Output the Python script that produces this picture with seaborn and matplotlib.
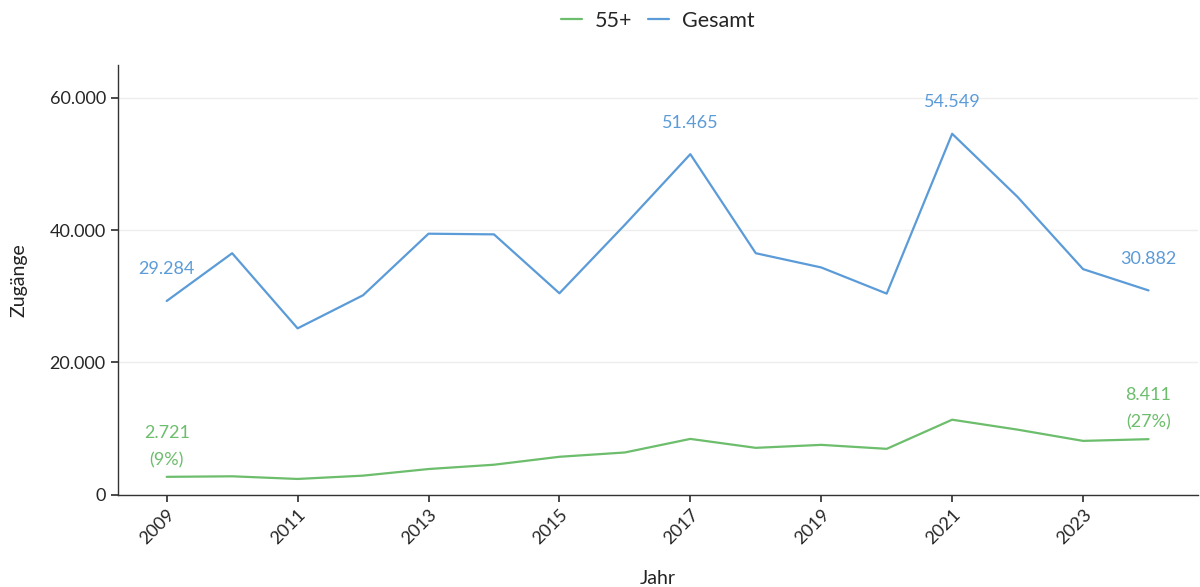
import matplotlib
matplotlib.use("Agg")
import matplotlib.pyplot as plt
import seaborn as sns
import pandas as pd
from matplotlib.ticker import FuncFormatter

years = list(range(2009, 2025))
gesamt = [29284, 36500, 25150, 30150, 39450, 39350, 30450, 40800, 51465,
          36500, 34350, 30400, 54549, 45000, 34100, 30882]
ue55 = [2721, 2800, 2400, 2900, 3900, 4550, 5750, 6400, 8450,
        7100, 7550, 6950, 11350, 9850, 8150, 8411]
series_names = ["55+", "Gesamt"]
colors = {"55+": "#6cbd6c", "Gesamt": "#5b9bd8"}

df = pd.DataFrame({
    "Jahr": years * 2,
    "Zugänge": ue55 + gesamt,
    "Serie": ["55+"] * len(years) + ["Gesamt"] * len(years),
})

sns.set_theme(style="white")
plt.rcParams["font.family"] = ["Lato", "DejaVu Sans"]

fig, ax = plt.subplots(figsize=(12, 5.87), dpi=100)
fig.subplots_adjust(left=0.098, right=0.998, top=0.89, bottom=0.157)

sns.lineplot(data=df, x="Jahr", y="Zugänge", hue="Serie", hue_order=series_names,
             palette=colors, ax=ax, linewidth=1.6)

ax.set_xlim(2008.25, 2024.75)
ax.set_ylim(0, 65000)
ax.set_yticks([0, 20000, 40000, 60000])
ax.yaxis.set_major_formatter(FuncFormatter(lambda v, p: f"{int(v):,}".replace(",", ".")))
ax.set_xticks(list(range(2009, 2025, 2)))
ax.tick_params(axis="x", rotation=45, labelsize=13, length=5, color="#333333", bottom=True)
ax.tick_params(axis="y", labelsize=13, length=5, color="#333333", left=True)
for lbl in ax.get_xticklabels():
    lbl.set_ha("right")
    lbl.set_rotation_mode("anchor")
ax.grid(axis="y", color="#eeeeee", linewidth=1)
ax.set_axisbelow(True)
for s in ["top", "right"]:
    ax.spines[s].set_visible(False)
for s in ["left", "bottom"]:
    ax.spines[s].set_color("#333333")
    ax.spines[s].set_linewidth(1)
ax.set_xlabel("Jahr", fontsize=14, color="#222222", labelpad=16)
ax.set_ylabel("Zugänge", fontsize=14, color="#222222", labelpad=16)

def fmt(v):
    return f"{v:,}".replace(",", ".")

# Annotations
for i in [0, 8, 12, 15]:
    ax.annotate(fmt(gesamt[i]), (years[i], gesamt[i]), xytext=(0, 17),
                textcoords="offset points", ha="center", va="bottom",
                color=colors["Gesamt"], fontsize=13)
for i in [0, 15]:
    pct = round(ue55[i] / gesamt[i] * 100)
    ax.annotate(f"{fmt(ue55[i])}\n({pct}%)", (years[i], ue55[i]), xytext=(0, 6),
                textcoords="offset points", ha="center", va="bottom",
                color=colors["55+"], fontsize=13, linespacing=1.9)

handles, labels = ax.get_legend_handles_labels()
ax.get_legend().remove()
fig.legend(handles, labels, loc="center", bbox_to_anchor=(0.548, 0.965), ncol=2, frameon=False,
           fontsize=15.5, handlelength=1.0, columnspacing=0.7, handletextpad=0.6)

fig.savefig("out.png", dpi=100)
